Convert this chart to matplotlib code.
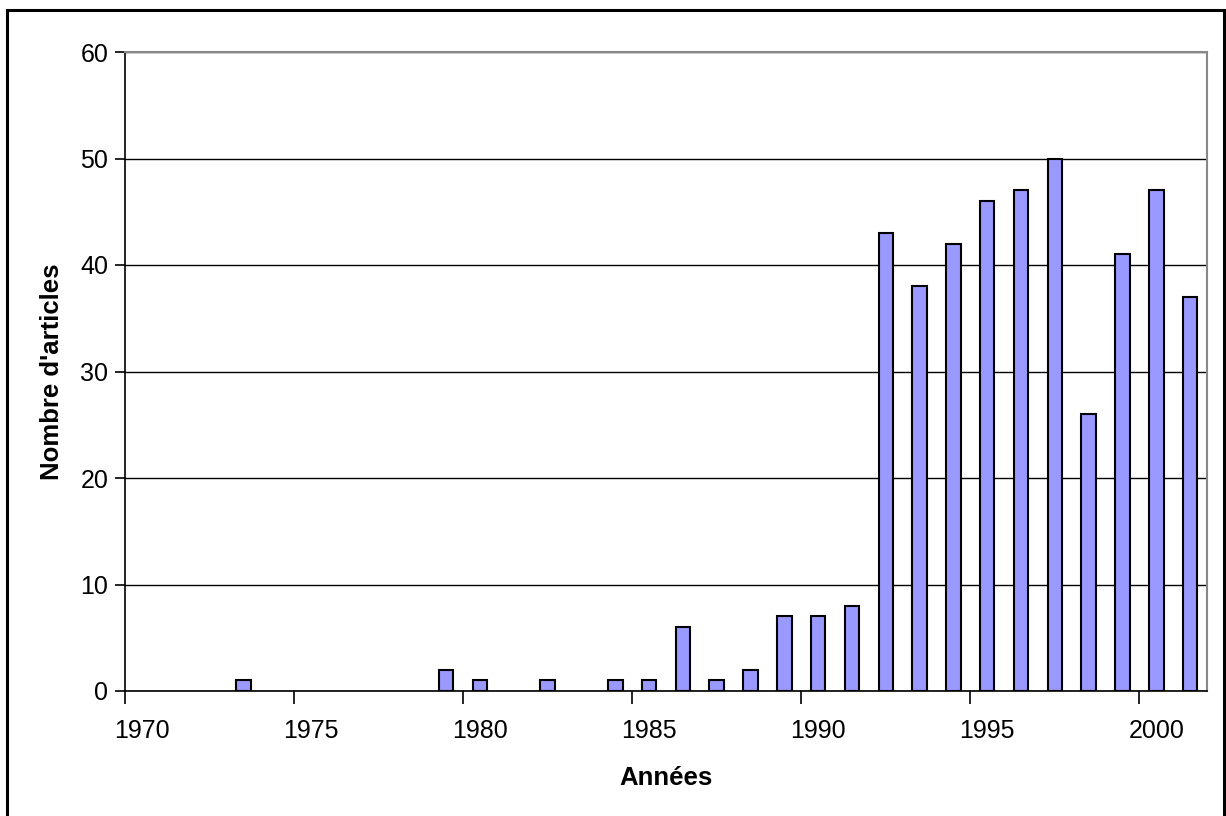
import matplotlib
matplotlib.use("Agg")
import matplotlib.pyplot as plt
from matplotlib.patches import Rectangle

plt.rcParams['font.family'] = ['Liberation Sans', 'DejaVu Sans']

years = [1973, 1979, 1980, 1982, 1984, 1985, 1986, 1987, 1988, 1989, 1990,
         1991, 1992, 1993, 1994, 1995, 1996, 1997, 1998, 1999, 2000, 2001]
articles = [1, 2, 1, 1, 1, 1, 6, 1, 2, 7, 7,
            8, 43, 38, 42, 46, 47, 50, 26, 41, 47, 37]
tick_years = [1970, 1975, 1980, 1985, 1990, 1995, 2000]

W, H = 1226, 816
fig = plt.figure(figsize=(W / 100, H / 100), dpi=100)
ax = fig.add_axes([125 / W, 1 - 691 / H, (1207 - 125) / W, (691 - 52) / H])

# bars sit in the middle of each year slot (Excel date axis)
ax.bar([y + 0.5 for y in years], articles, width=0.43, color='#9999ff',
       edgecolor='black', linewidth=1.5, zorder=3)

ax.set_xlim(1970, 2002)
ax.set_ylim(0, 60)
ax.set_yticks(range(0, 61, 10))
ax.yaxis.grid(True, color='black', linewidth=1, zorder=0)

ax.set_xticks(tick_years)
ax.set_xticklabels([])
ax.set_xticks([y + 0.5 for y in tick_years], minor=True)
ax.set_xticklabels([str(y) for y in tick_years], minor=True)
ax.tick_params(axis='x', which='major', direction='out', length=9, width=1.2)
ax.tick_params(axis='x', which='minor', length=0, pad=20, labelsize=18)
ax.tick_params(axis='y', direction='out', length=7, width=1.2, pad=5, labelsize=18)

for s in ['top', 'right']:
    ax.spines[s].set_color('#888888')
    ax.spines[s].set_linewidth(1.5)
for s in ['left', 'bottom']:
    ax.spines[s].set_color('black')
    ax.spines[s].set_linewidth(1.2)

ax.set_xlabel('Années', fontsize=18.5, fontweight='bold', labelpad=17)
ax.set_ylabel("Nombre d'articles", fontsize=18.5, fontweight='bold', labelpad=12)

# chart border (bottom edge falls outside the picture)
fig.patches.append(Rectangle((7 / W, 1 - 830 / H), 1217 / W, 820 / H,
                             transform=fig.transFigure, fill=False,
                             edgecolor='black', linewidth=2.2))

fig.savefig('out.png', dpi=100)
